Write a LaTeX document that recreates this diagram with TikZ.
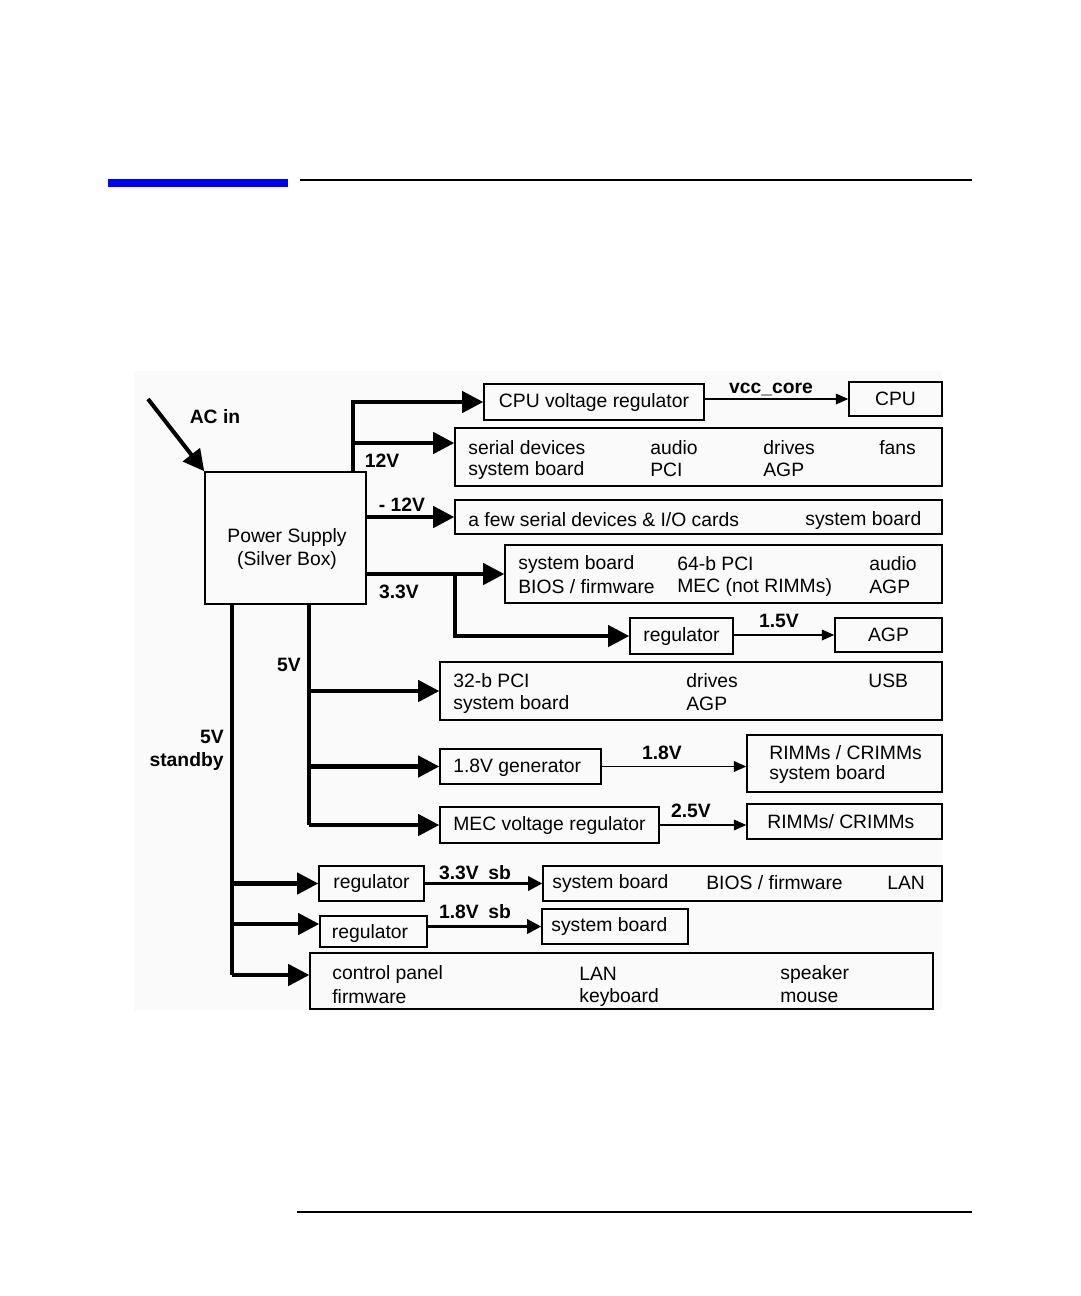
\documentclass[tikz,border=0pt]{standalone}
\usepackage{fontspec}
\setmainfont{Liberation Sans}
\usetikzlibrary{arrows.meta,positioning}
\definecolor{baslikMavi}{HTML}{0000FF}
\definecolor{zeminGri}{HTML}{FAFAFA}
\begin{document}
\begin{tikzpicture}[x=0.02cm,y=-0.02cm, every node/.style={font=\fontsize{11}{13}\selectfont},
  box/.style={draw,line width=0.85pt,inner sep=0pt},
  txt/.style={anchor=west,inner sep=0pt},
  lbl/.style={font=\fontsize{11}{13}\selectfont\bfseries,inner sep=0pt},
  railline/.style={line width=2.3pt},
  railarrow/.style={line width=2.3pt,-{Triangle[length=12pt,width=12pt]}},
  sbarrow/.style={line width=1.7pt,-{Triangle[length=8pt,width=8pt]}},
  feedarrow/.style={line width=0.85pt,-{Triangle[length=7pt,width=6pt]}}]
\useasboundingbox (0,0) rectangle (1080,1296);
\fill[zeminGri] (134,371) rectangle (942,1010);
\fill[baslikMavi] (108,179) rectangle (288,187);
\draw[line width=1.2pt] (300,180)--(972,180);
\draw[line width=1.1pt] (297,1212)--(972,1212);
\node[box,minimum width=3.22cm,minimum height=2.64cm] (psu) at (285.5,538) {};
\node[align=center,inner sep=0pt] (psutxt) at (287,549) {Power Supply\\(Silver Box)};
\node[box,minimum width=4.40cm,minimum height=0.72cm] (cpureg) at (594,402) {CPU voltage regulator};
\node[box,minimum width=1.86cm,minimum height=0.68cm] (cpu) at (895.5,399) {CPU};
\node[box,minimum width=9.74cm,minimum height=1.16cm] (sdev) at (698.5,457) {};
\node[txt] (sdev1) at (468,448) {serial devices};
\node[txt] (sdev2) at (650,448) {audio};
\node[txt] (sdev3) at (763,448) {drives};
\node[txt] (sdev4) at (879,448) {fans};
\node[txt] (sdev5) at (468,470) {system board};
\node[txt] (sdev6) at (650,470) {PCI};
\node[txt] (sdev7) at (763,470) {AGP};
\node[box,minimum width=9.74cm,minimum height=0.68cm] (m12) at (698.5,517) {};
\node[txt] (m12a) at (468,520) {a few serial devices \& I/O cards};
\node[txt] (m12b) at (805,520) {system board};
\node[box,minimum width=8.74cm,minimum height=1.16cm] (b33) at (723.5,574) {};
\node[txt] (b33a) at (518,564) {system board};
\node[txt] (b33b) at (677,564) {64-b PCI};
\node[txt] (b33c) at (869,564) {audio};
\node[txt] (b33d) at (518,587) {BIOS / firmware};
\node[txt] (b33e) at (677,587) {MEC (not RIMMs)};
\node[txt] (b33f) at (869,587) {AGP};
\node[box,minimum width=2.06cm,minimum height=0.72cm] (reg15) at (681.5,636) {regulator};
\node[box,minimum width=2.14cm,minimum height=0.68cm] (agp15) at (888.5,635) {AGP};
\node[box,minimum width=10.04cm,minimum height=1.16cm] (b32) at (691,691) {};
\node[txt] (b32a) at (453,681) {32-b PCI};
\node[txt] (b32b) at (686,681) {drives};
\node[txt] (b32c) at (868,681) {USB};
\node[txt] (b32d) at (453,704) {system board};
\node[txt] (b32e) at (686,704) {AGP};
\node[box,minimum width=3.22cm,minimum height=0.70cm] (gen18) at (520.5,766.5) {};
\node[txt] (gen18t) at (453,768) {1.8V generator};
\node[box,minimum width=3.90cm,minimum height=1.14cm] (rimm18) at (844.5,763.5) {};
\node[txt] (rimm18a) at (769,753) {RIMMs / CRIMMs};
\node[txt] (rimm18b) at (769,774) {system board};
\node[box,minimum width=4.38cm,minimum height=0.72cm] (mecreg) at (549.5,825) {MEC voltage regulator};
\node[box,minimum width=3.90cm,minimum height=0.70cm] (rimm25) at (844.5,821.5) {};
\node[txt] (rimm25t) at (767,822) {RIMMs/ CRIMMs};
\node[box,minimum width=2.10cm,minimum height=0.70cm] (regsb33) at (371.5,883.5) {regulator};
\node[box,minimum width=7.98cm,minimum height=0.70cm] (sb33) at (742.5,883.5) {};
\node[txt] (sb33a) at (552,883) {system board};
\node[txt] (sb33b) at (706,883) {BIOS / firmware};
\node[txt] (sb33c) at (887,883) {LAN};
\node[box,minimum width=2.14cm,minimum height=0.62cm] (regsb18) at (373.5,931.5) {};
\node[inner sep=0pt] (regsb18t) at (370,933) {regulator};
\node[box,minimum width=2.92cm,minimum height=0.70cm] (sb18) at (615,926.5) {};
\node[txt] (sb18t) at (551,926) {system board};
\node[box,minimum width=12.46cm,minimum height=1.12cm] (ctrl) at (621.5,981) {};
\node[txt] (ctrla) at (332,974) {control panel};
\node[txt] (ctrlb) at (579,974) {LAN};
\node[txt] (ctrlc) at (780,974) {speaker};
\node[txt] (ctrld) at (332,997) {firmware};
\node[txt] (ctrle) at (579,997) {keyboard};
\node[txt] (ctrlf) at (780,997) {mouse};
\node[lbl] (acl) at (215,417) {AC in};
\node[lbl] (l12) at (382,461) {12V};
\node[lbl] (lm12) at (402,505) {- 12V};
\node[lbl] (l33) at (399,592) {3.3V};
\node[lbl] (l5) at (289,665) {5V};
\node[lbl,align=right,anchor=east] (l5sb) at (224,750) {5V\\standby};
\node[lbl] (lvcc) at (771,389) {vcc\_core};
\node[lbl] (l15) at (779,621) {1.5V};
\node[lbl] (l18) at (662,753) {1.8V};
\node[lbl] (l25) at (691,811) {2.5V};
\node[lbl] (lsb33) at (475,873) {3.3V\enspace sb};
\node[lbl] (lsb18) at (475,912) {1.8V\enspace sb};
\coordinate (acin) at (148,399);
\coordinate (v12) at (353,472);
\coordinate (j12) at (353,443);
\coordinate (j33) at (455,574);
\coordinate (v5) at (309,604);
\coordinate (vsb) at (232,604);
\coordinate (jsb18) at (232,924);
\coordinate (jsbc) at (232,975);
\draw[railarrow] (acin) -- (psu.north west);
\draw[railarrow] (v12) |- (cpureg.west);
\draw[railarrow] (j12) -- (j12 -| sdev.west);
\draw[railarrow] (psu.east |- m12.west) -- (m12.west);
\draw[railarrow] (psu.east |- b33.west) -- (b33.west);
\draw[railarrow] (j33) |- (reg15.west);
\draw[feedarrow] (cpureg.east |- cpu.west) -- (cpu.west);
\draw[feedarrow] (reg15.east |- agp15.west) -- (agp15.west);
\draw[railline] (v5) -- (v5 |- mecreg.west);
\foreach \hedef in {b32,gen18,mecreg}
  \draw[railarrow] (v5 |- \hedef.west) -- (\hedef.west);
\draw[feedarrow] (gen18.east) -- (gen18.east -| rimm18.west);
\draw[feedarrow] (mecreg.east) -- (mecreg.east -| rimm25.west);
\draw[railline] (vsb) -- (jsbc);
\draw[railarrow] (vsb |- regsb33.west) -- (regsb33.west);
\draw[railarrow] (jsb18) -- (jsb18 -| regsb18.west);
\draw[railarrow] (jsbc) -- (jsbc -| ctrl.west);
\draw[sbarrow] (regsb33.east |- sb33.west) -- (sb33.west);
\draw[sbarrow] (sb18.west -| regsb18.east) -- (sb18.west);
\end{tikzpicture}
\end{document}
